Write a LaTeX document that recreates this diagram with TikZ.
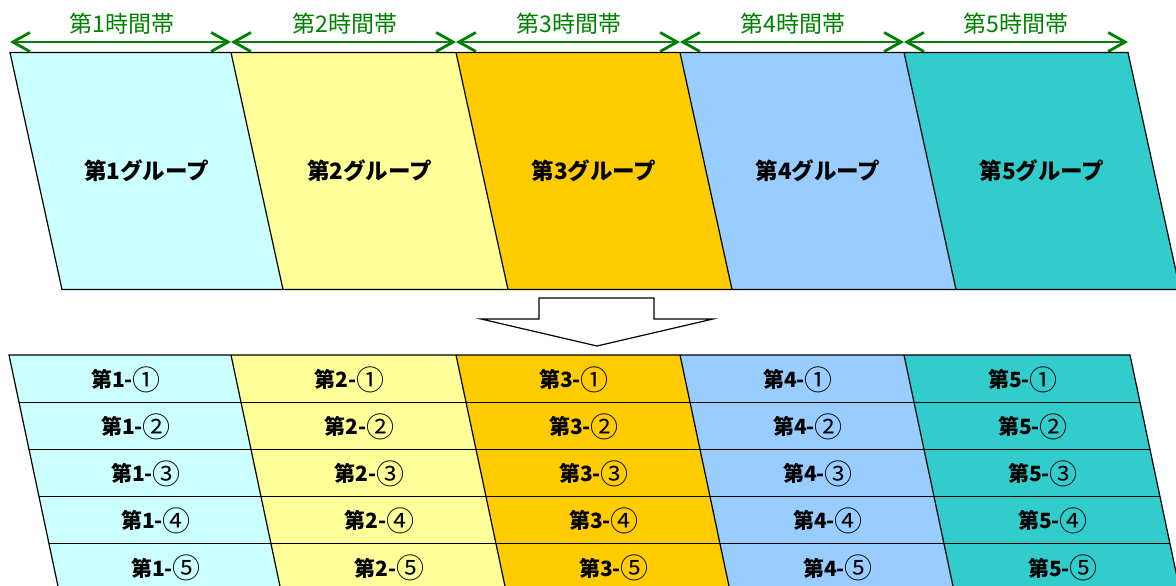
\documentclass[tikz,border=0pt]{standalone}
\usepackage{fontspec}
\setmainfont{Noto Sans CJK JP}
\usetikzlibrary{arrows.meta}
\definecolor{grpone}{HTML}{CCFFFF}
\definecolor{grptwo}{HTML}{FFFF99}
\definecolor{grpthree}{HTML}{FFCC00}
\definecolor{grpfour}{HTML}{99CCFF}
\definecolor{grpfive}{HTML}{33CCCC}
\definecolor{spangreen}{HTML}{008000}
\newcommand\circno[1]{\raisebox{-0.14em}{\fontsize{28}{28}\selectfont\mdseries #1}}

\begin{document}
\begin{tikzpicture}[x=1pt,y=-1pt,
    band/.style={draw=black,line width=1.2pt},
    span/.style={draw=spangreen,line width=2.8pt,
      {Straight Barb[length=17pt,width=19pt]}-{Straight Barb[length=17pt,width=19pt]}},
    spanlabel/.style={text=spangreen,inner sep=0pt,font=\fontsize{23}{23}\selectfont},
    grplabel/.style={inner sep=0pt,font=\bfseries\fontsize{22.5}{22.5}\selectfont},
    cell/.style={inner sep=0pt,font=\bfseries\fontsize{21}{21}\selectfont}]
  \useasboundingbox (0,0) rectangle (1176,586);
  \clip (0,0) rectangle (1176,586);

  % time slots
  \coordinate (t0) at (10,42);
  \coordinate (t1) at (231,42);
  \coordinate (t2) at (456,42);
  \coordinate (t3) at (680,42);
  \coordinate (t4) at (904,42);
  \coordinate (t5) at (1128,42);
  \draw [span] (t0) -- (t1);
  \draw [span] (t1) -- (t2);
  \draw [span] (t2) -- (t3);
  \draw [span] (t3) -- (t4);
  \draw [span] (t4) -- (t5);
  \node [spanlabel] (s1) at (122,24) {第1時間帯};
  \node [spanlabel] (s2) at (345,24) {第2時間帯};
  \node [spanlabel] (s3) at (569,24) {第3時間帯};
  \node [spanlabel] (s4) at (793,24) {第4時間帯};
  \node [spanlabel] (s5) at (1016,24) {第5時間帯};

  % groups
  \fill [grpone] (10,52.5) -- (231,52.5) -- (283,289.5) -- (62,289.5) -- cycle;
  \fill [grptwo] (231,52.5) -- (456,52.5) -- (508,289.5) -- (283,289.5) -- cycle;
  \fill [grpthree] (456,52.5) -- (680,52.5) -- (732,289.5) -- (508,289.5) -- cycle;
  \fill [grpfour] (680,52.5) -- (904,52.5) -- (956,289.5) -- (732,289.5) -- cycle;
  \fill [grpfive] (904,52.5) -- (1128,52.5) -- (1180,289.5) -- (956,289.5) -- cycle;
  \draw [band] (10,52.5) -- (1128,52.5) -- (1180,289.5) -- (62,289.5) -- cycle;
  \draw [band] (231,52.5) -- (283,289.5);
  \draw [band] (456,52.5) -- (508,289.5);
  \draw [band] (680,52.5) -- (732,289.5);
  \draw [band] (904,52.5) -- (956,289.5);
  \node [grplabel] (g1) at (146.5,171) {第1グループ};
  \node [grplabel] (g2) at (369.5,171) {第2グループ};
  \node [grplabel] (g3) at (594,171) {第3グループ};
  \node [grplabel] (g4) at (818,171) {第4グループ};
  \node [grplabel] (g5) at (1042,171) {第5グループ};

  % block arrow
  \draw [band,fill=white] (539,298) -- (654,298) -- (654,319) -- (713,319)
    -- (597,346) -- (481,319) -- (539,319) -- cycle;

  % split groups
  \fill [grpone] (9,355) -- (231,355) -- (281,591) -- (59,591) -- cycle;
  \fill [grptwo] (231,355) -- (456,355) -- (506,591) -- (281,591) -- cycle;
  \fill [grpthree] (456,355) -- (680,355) -- (730,591) -- (506,591) -- cycle;
  \fill [grpfour] (680,355) -- (904,355) -- (954,591) -- (730,591) -- cycle;
  \fill [grpfive] (904,355) -- (1130,355) -- (1180,591) -- (954,591) -- cycle;
  \draw [band] (9,355) -- (1130,355) -- (1180,591) -- (59,591) -- cycle;
  \draw [band] (231,355) -- (281,591);
  \draw [band] (456,355) -- (506,591);
  \draw [band] (680,355) -- (730,591);
  \draw [band] (904,355) -- (954,591);
  \draw [band] (19,402.2) -- (1140,402.2);
  \draw [band] (29,449.4) -- (1150,449.4);
  \draw [band] (39,496.6) -- (1160,496.6);
  \draw [band] (49,543.8) -- (1170,543.8);
  \node [cell] (c11) at (126,379.5) {第1-\circno{①}};
  \node [cell] (c12) at (136,426.7) {第1-\circno{②}};
  \node [cell] (c13) at (146,473.9) {第1-\circno{③}};
  \node [cell] (c14) at (156,521.1) {第1-\circno{④}};
  \node [cell] (c15) at (166,568.3) {第1-\circno{⑤}};
  \node [cell] (c21) at (349.5,379.5) {第2-\circno{①}};
  \node [cell] (c22) at (359.5,426.7) {第2-\circno{②}};
  \node [cell] (c23) at (369.5,473.9) {第2-\circno{③}};
  \node [cell] (c24) at (379.5,521.1) {第2-\circno{④}};
  \node [cell] (c25) at (389.5,568.3) {第2-\circno{⑤}};
  \node [cell] (c31) at (574,379.5) {第3-\circno{①}};
  \node [cell] (c32) at (584,426.7) {第3-\circno{②}};
  \node [cell] (c33) at (594,473.9) {第3-\circno{③}};
  \node [cell] (c34) at (604,521.1) {第3-\circno{④}};
  \node [cell] (c35) at (614,568.3) {第3-\circno{⑤}};
  \node [cell] (c41) at (798,379.5) {第4-\circno{①}};
  \node [cell] (c42) at (808,426.7) {第4-\circno{②}};
  \node [cell] (c43) at (818,473.9) {第4-\circno{③}};
  \node [cell] (c44) at (828,521.1) {第4-\circno{④}};
  \node [cell] (c45) at (838,568.3) {第4-\circno{⑤}};
  \node [cell] (c51) at (1023,379.5) {第5-\circno{①}};
  \node [cell] (c52) at (1033,426.7) {第5-\circno{②}};
  \node [cell] (c53) at (1043,473.9) {第5-\circno{③}};
  \node [cell] (c54) at (1053,521.1) {第5-\circno{④}};
  \node [cell] (c55) at (1063,568.3) {第5-\circno{⑤}};
\end{tikzpicture}
\end{document}
